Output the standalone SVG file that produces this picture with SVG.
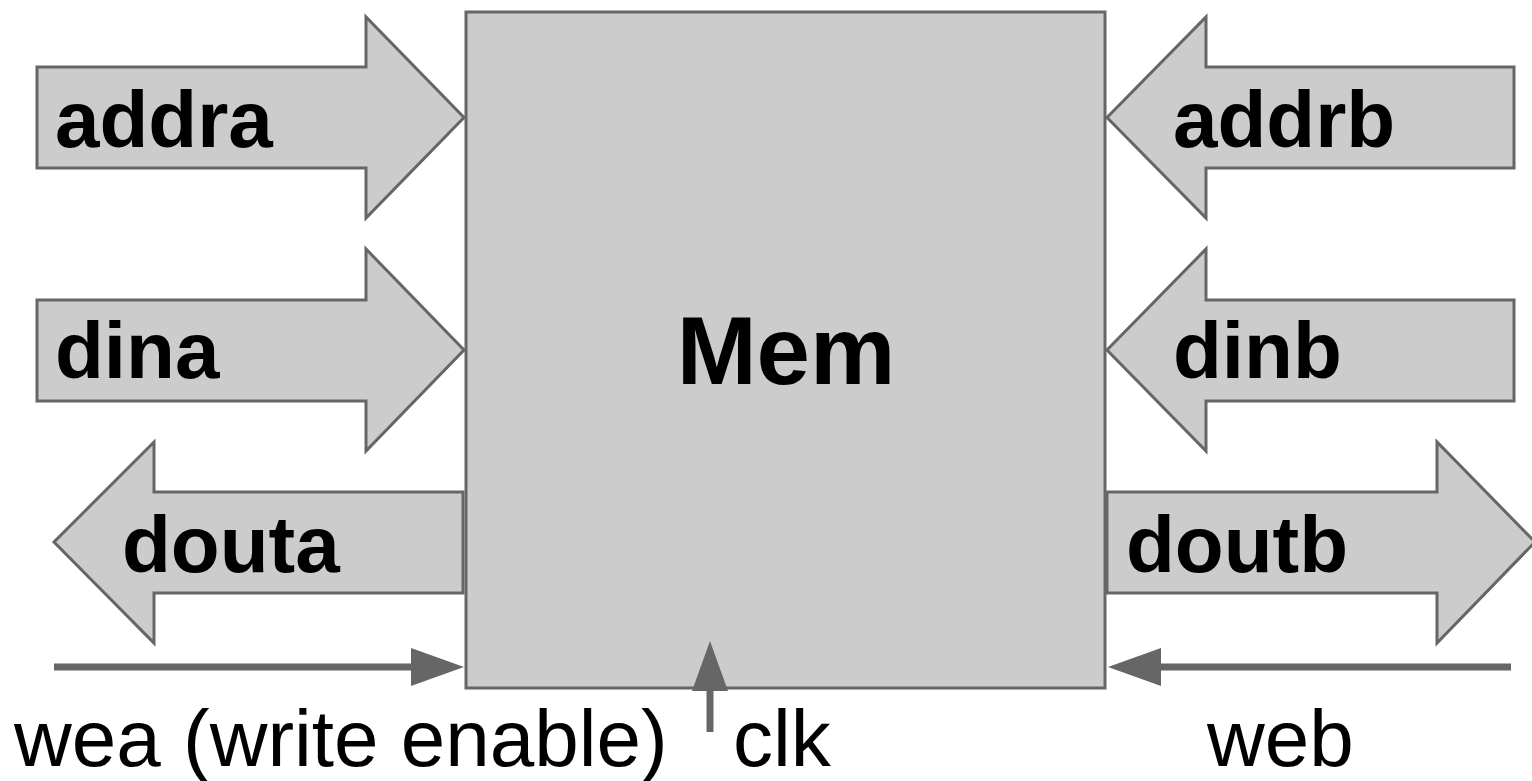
<svg xmlns="http://www.w3.org/2000/svg" width="1532" height="781" viewBox="0 0 1532 781">
<style>
.shape{fill:#cccccc;stroke:#666666;stroke-width:3;stroke-linejoin:miter}
.lbl{font-family:"Liberation Sans",Arial,sans-serif;font-weight:bold;font-size:80px;fill:#000}
.big{font-family:"Liberation Sans",Arial,sans-serif;font-weight:bold;font-size:96px;fill:#000}
.sig{font-family:"Liberation Sans",Arial,sans-serif;font-size:80px;fill:#000}
.wire{stroke:#666666;stroke-width:7;fill:none}
.head{fill:#666666;stroke:none}
</style>
<rect width="1532" height="781" fill="#ffffff"/>
<g id="mem">
<rect class="shape" x="466" y="12" width="639" height="676"/>
<text class="big" x="786" y="384" text-anchor="middle">Mem</text>
</g>
<g id="addra">
<polygon class="shape" points="37,67 366,67 366,17 464,117.5 366,218 366,168 37,168"/>
<text class="lbl" x="55" y="147">addra</text>
</g>
<g id="dina">
<polygon class="shape" points="37,300 366,300 366,249 464,350 366,451 366,401 37,401"/>
<text class="lbl" x="55" y="378">dina</text>
</g>
<g id="douta">
<polygon class="shape" points="463,492 154,492 154,442 54,542 154,643 154,593 463,593"/>
<text class="lbl" x="122" y="572">douta</text>
</g>
<g id="addrb">
<polygon class="shape" points="1514,67 1206,67 1206,17 1107,117.5 1206,218 1206,168 1514,168"/>
<text class="lbl" x="1173" y="147">addrb</text>
</g>
<g id="dinb">
<polygon class="shape" points="1514,300 1206,300 1206,249 1107,350 1206,451 1206,401 1514,401"/>
<text class="lbl" x="1173" y="378">dinb</text>
</g>
<g id="doutb">
<polygon class="shape" points="1107,492 1437,492 1437,442 1535,542 1437,643 1437,593 1107,593"/>
<text class="lbl" x="1126" y="572">doutb</text>
</g>
<g id="connectors">
<line class="wire" x1="54" y1="667" x2="414" y2="667"/>
<polygon class="head" points="411,648 464,667 411,686"/>
<line class="wire" x1="1158" y1="667" x2="1511" y2="667"/>
<polygon class="head" points="1161,648 1108,667 1161,686"/>
<line class="wire" x1="710" y1="732" x2="710" y2="688"/>
<polygon class="head" points="710,641 692,691 728,691"/>
</g>
<g id="labels">
<text class="sig" x="14" y="766">wea (write enable)</text>
<text class="sig" x="733" y="766">clk</text>
<text class="sig" x="1207" y="766">web</text>
</g>
</svg>
